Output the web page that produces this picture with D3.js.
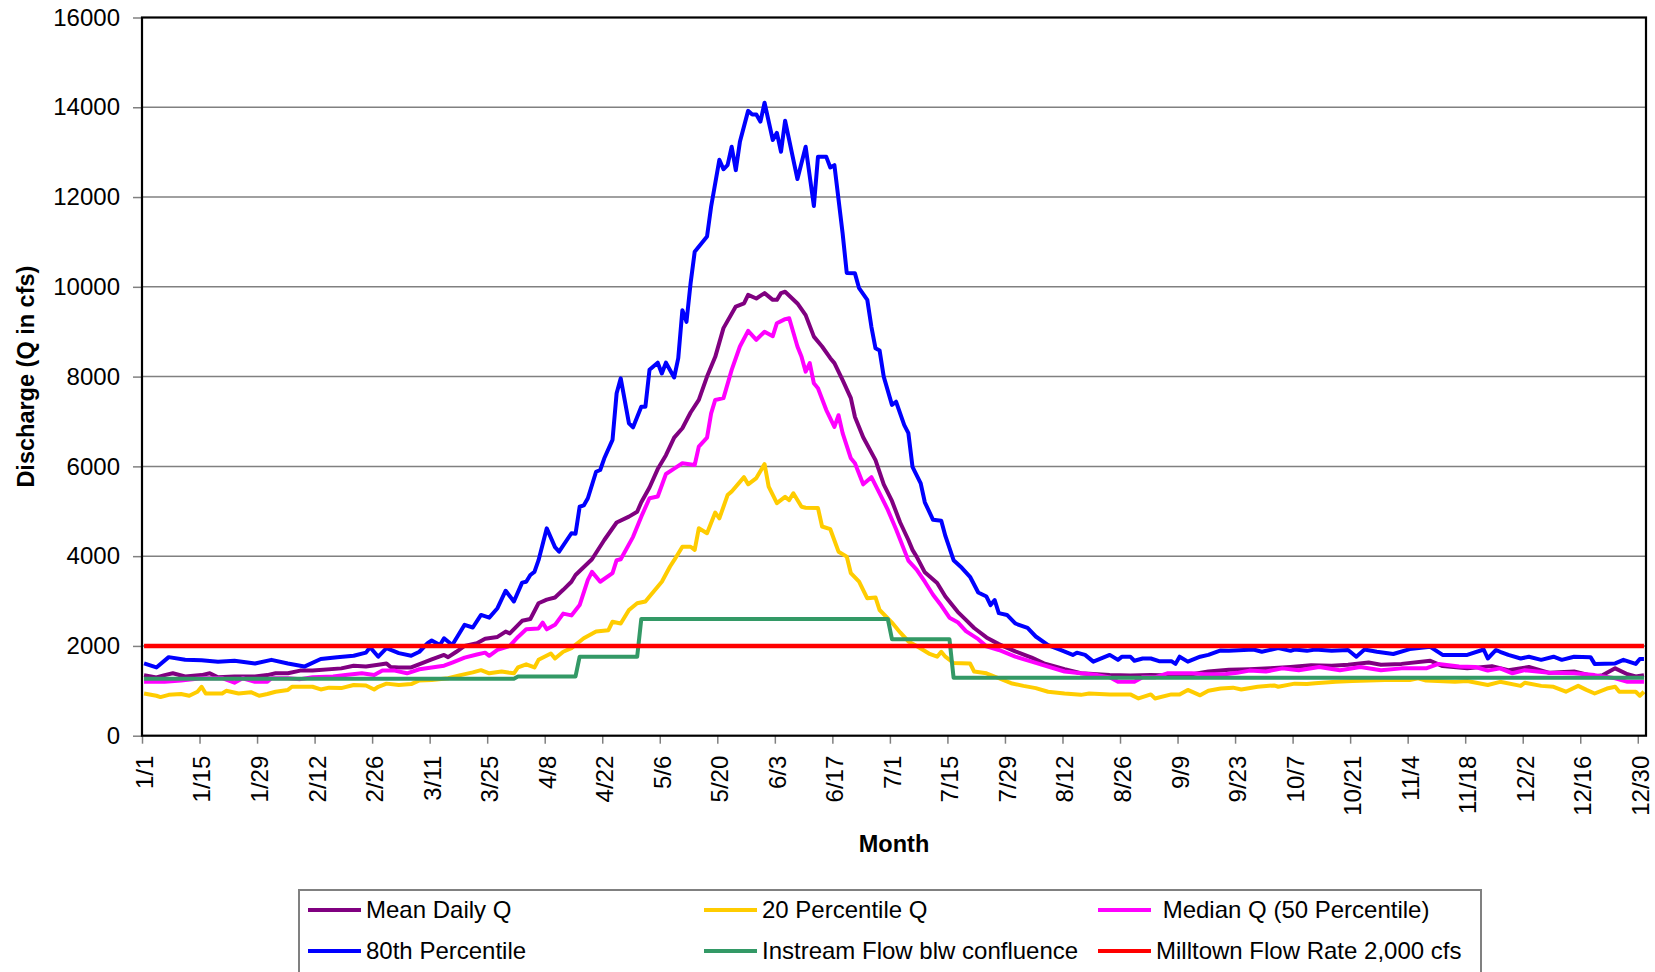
<!DOCTYPE html>
<html>
<head>
<meta charset="utf-8">
<script src="https://cdn.jsdelivr.net/npm/d3@7"></script>
<style>
body { margin: 0; background: #fff; }
svg { display: block; font-family: "Liberation Sans", Arial, sans-serif; }
</style>
</head>
<body>
<svg id="chart"></svg>
<script>
// Day index: 0 = 1/1 ... 365 = 12/31 (leap year, 366 daily categories)
var tickLabels = ['1/1','1/15','1/29','2/12','2/26','3/11','3/25','4/8','4/22','5/6','5/20','6/3','6/17','7/1',
    '7/15','7/29','8/12','8/26','9/9','9/23','10/7','10/21','11/4','11/18','12/2','12/16','12/30'];
var yTicks = [0, 2000, 4000, 6000, 8000, 10000, 12000, 14000, 16000];

// [day, cfs]
var meanQ = [[0,1350],[3,1300],[5,1350],[7,1390],[10,1320],[14,1350],[16,1390],[18,1300],[22,1320],[27,1320],[30,1350],
    [32,1390],[35,1390],[38,1450],[41,1450],[48,1500],[51,1560],[54,1540],[57,1580],[59,1610],[60,1530],[62,1520],[65,1520],
    [68,1630],[70,1700],[73,1800],[74,1750],[76,1870],[78,2000],[81,2060],[83,2160],[86,2200],[88,2320],[89,2280],[92,2560],
    [94,2600],[96,2950],[98,3030],[100,3080],[102,3250],[104,3430],[105,3580],[109,3930],[112,4360],[115,4750],[118,4880],
    [120,4990],[121,5200],[123,5530],[125,5940],[127,6250],[129,6640],[131,6850],[133,7200],[135,7480],[137,8000],[139,8440],
    [141,9080],[144,9560],[146,9630],[147,9820],[149,9740],[151,9860],[153,9710],[154,9710],[155,9860],[156,9890],[159,9630],
    [161,9370],[163,8890],[165,8670],[167,8410],[168,8300],[170,7920],[172,7520],[173,7100],[175,6650],[178,6140],[180,5600],
    [182,5230],[184,4750],[186,4360],[187,4140],[188,3990],[190,3640],[193,3400],[195,3100],[198,2760],[200,2580],[202,2400],
    [205,2190],[208,2040],[212,1880],[216,1740],[219,1610],[221,1560],[224,1480],[228,1390],[232,1370],[235,1350],[240,1340],
    [245,1350],[250,1340],[255,1370],[259,1430],[264,1470],[269,1480],[274,1500],[279,1530],[284,1570],[289,1560],[293,1580],
    [298,1630],[301,1580],[306,1600],[313,1670],[316,1550],[322,1500],[328,1550],[332,1460],[337,1530],[342,1400],[348,1430],
    [353,1320],[355,1350],[358,1500],[361,1370],[363,1320],[365,1350]];

var p20Q = [[0,940],[3,890],[4,860],[6,910],[9,930],[11,890],[13,980],[14,1090],[15,940],[19,940],[20,1000],[23,940],[26,970],
    [28,890],[30,930],[32,980],[35,1020],[36,1090],[41,1090],[43,1030],[45,1070],[48,1060],[51,1130],[54,1120],[56,1030],
    [57,1090],[59,1160],[62,1130],[65,1150],[67,1230],[70,1240],[74,1280],[77,1350],[80,1410],[82,1460],[84,1390],[87,1430],
    [89,1400],[90,1390],[91,1520],[93,1590],[95,1520],[96,1690],[99,1830],[100,1720],[102,1870],[104,1950],[107,2170],
    [110,2320],[113,2350],[114,2540],[116,2500],[118,2800],[120,2950],[122,2990],[123,3100],[126,3430],[128,3770],[129,3910],
    [131,4210],[133,4210],[134,4140],[135,4620],[137,4510],[139,4970],[140,4840],[142,5360],[143,5440],[146,5760],[147,5600],
    [149,5740],[151,6050],[152,5550],[154,5180],[156,5320],[157,5250],[158,5400],[160,5100],[161,5080],[164,5070],[165,4660],
    [167,4600],[169,4100],[171,3990],[172,3620],[174,3430],[176,3060],[178,3080],[179,2800],[182,2520],[184,2300],[186,2100],
    [188,2000],[191,1830],[193,1760],[194,1870],[195,1760],[197,1620],[201,1610],[202,1430],[205,1390],[208,1280],[211,1170],
    [214,1110],[217,1060],[220,980],[224,940],[228,910],[230,940],[235,920],[240,920],[242,830],[245,920],[246,830],[250,920],
    [252,920],[254,1020],[257,900],[259,1000],[262,1050],[265,1070],[267,1030],[271,1090],[275,1120],[276,1090],[280,1160],
    [283,1150],[285,1170],[290,1200],[294,1220],[302,1240],[308,1240],[310,1280],[312,1230],[319,1200],[322,1220],[327,1130],
    [330,1200],[335,1110],[336,1180],[340,1110],[343,1090],[346,980],[349,1110],[351,1020],[353,940],[356,1050],[358,1090],
    [359,980],[363,980],[364,890],[365,980]];

var medianQ = [[0,1200],[5,1200],[9,1230],[14,1280],[19,1280],[22,1180],[24,1280],[27,1200],[30,1200],[31,1280],[35,1280],
    [38,1260],[41,1300],[46,1320],[49,1350],[53,1390],[56,1350],[58,1450],[61,1450],[64,1390],[67,1480],[70,1520],[73,1560],
    [75,1630],[78,1740],[81,1810],[83,1850],[84,1780],[86,1910],[89,2000],[91,2200],[93,2370],[96,2390],[97,2520],[98,2370],
    [100,2470],[102,2720],[104,2680],[106,2910],[108,3470],[109,3650],[111,3430],[114,3620],[115,3910],[116,3930],[119,4430],
    [121,4880],[123,5290],[125,5330],[127,5830],[129,5950],[131,6070],[134,6030],[135,6440],[137,6640],[138,7180],[139,7480],
    [141,7520],[143,8150],[145,8670],[147,9020],[149,8820],[151,9000],[153,8900],[154,9190],[156,9280],[157,9300],[159,8670],
    [160,8440],[161,8110],[162,8300],[163,7850],[164,7740],[166,7260],[168,6880],[169,7140],[170,6740],[172,6180],[173,6070],
    [175,5600],[177,5760],[179,5400],[181,5030],[183,4600],[186,3900],[188,3700],[190,3430],[192,3140],[194,2900],[196,2630],
    [198,2530],[200,2330],[203,2150],[205,1990],[208,1910],[212,1760],[216,1650],[220,1540],[224,1430],[228,1390],[232,1350],
    [235,1300],[237,1200],[241,1200],[243,1300],[246,1300],[249,1390],[255,1390],[258,1370],[263,1370],[266,1400],[269,1450],
    [273,1430],[277,1500],[281,1460],[286,1530],[291,1460],[296,1530],[301,1460],[306,1500],[312,1500],[315,1600],[320,1540],
    [324,1530],[327,1450],[330,1500],[333,1390],[336,1460],[342,1400],[348,1390],[353,1350],[358,1280],[361,1200],[365,1200]];

var p80Q = [[0,1610],[3,1520],[6,1750],[10,1690],[14,1680],[18,1650],[22,1670],[27,1610],[31,1690],[35,1610],[39,1540],
    [43,1710],[47,1750],[51,1780],[54,1850],[55,1970],[57,1760],[59,1950],[62,1840],[65,1780],[67,1870],[69,2060],[70,2120],
    [72,2020],[73,2170],[75,2020],[78,2470],[80,2410],[82,2690],[84,2630],[86,2840],[88,3230],[90,2990],[92,3410],[93,3430],
    [94,3580],[95,3650],[96,3910],[98,4620],[100,4200],[101,4100],[104,4510],[105,4500],[106,5100],[107,5130],[108,5290],
    [110,5880],[111,5920],[112,6180],[114,6590],[115,7630],[116,7960],[118,6960],[119,6870],[121,7330],[122,7330],[123,8150],
    [125,8310],[126,8070],[127,8310],[129,7980],[130,8410],[131,9480],[132,9220],[133,10080],[134,10780],[137,11120],
    [138,11790],[140,12830],[141,12620],[142,12710],[143,13120],[144,12600],[145,13230],[147,13920],[148,13840],[149,13840],
    [150,13680],[151,14100],[153,13270],[154,13430],[155,13010],[156,13700],[159,12400],[161,13120],[163,11800],[164,12900],
    [166,12900],[167,12660],[168,12710],[170,11190],[171,10310],[173,10300],[174,9970],[176,9710],[177,9110],[178,8630],
    [179,8580],[180,8000],[182,7370],[183,7440],[185,6920],[186,6740],[187,5990],[189,5620],[190,5200],[192,4810],[194,4790],
    [195,4450],[197,3910],[199,3740],[201,3540],[203,3190],[205,3100],[206,2910],[207,3020],[208,2730],[210,2690],[212,2500],
    [215,2400],[217,2210],[220,2020],[223,1910],[226,1800],[227,1850],[229,1800],[231,1650],[235,1800],[237,1690],[238,1760],
    [240,1760],[241,1670],[243,1720],[245,1720],[247,1660],[250,1660],[251,1600],[252,1760],[254,1650],[257,1760],[259,1800],
    [262,1900],[264,1890],[270,1920],[272,1870],[276,1950],[279,1890],[280,1920],[283,1890],[285,1920],[289,1890],[293,1910],
    [295,1760],[297,1920],[300,1870],[304,1820],[308,1930],[313,1980],[316,1800],[322,1800],[326,1920],[327,1720],[329,1910],
    [330,1870],[332,1800],[335,1720],[337,1760],[340,1690],[343,1760],[345,1690],[348,1760],[352,1750],[353,1600],[358,1610],
    [360,1690],[363,1600],[364,1710],[365,1710]];

var instreamQ = [[0,1270],[90,1270],[91,1320],[105,1320],[106,1760],[120,1760],[121,2600],[181,2600],[182,2150],[196,2150],
    [197,1290],[365,1290]];

var milltownQ = [[0,2000],[365,2000]];

var seriesNames = ['Mean Daily Q', '20 Percentile Q', ' Median Q (50 Percentile)', '80th Percentile',
    'Instream Flow blw confluence', 'Milltown Flow Rate 2,000 cfs'];
var seriesColors = ['#800080', '#FFCC00', '#FF00FF', '#0000FF', '#339966', '#FF0000'];
var seriesData = [meanQ, p20Q, medianQ, p80Q, instreamQ, milltownQ];

var W = 1655, H = 972;
var plot = { left: 142, right: 1646, top: 17.5, bottom: 735.7 };

var svg = d3.select('#chart').attr('width', W).attr('height', H);
svg.append('rect').attr('width', W).attr('height', H).attr('fill', '#fff');

var x = d3.scaleLinear().domain([0, 366]).range([plot.left, plot.right]);
var y = d3.scaleLinear().domain([0, 16000]).range([plot.bottom, plot.top]);

// horizontal gridlines
svg.append('g')
    .selectAll('line')
    .data(yTicks.filter(d => d > 0 && d < 16000))
    .enter().append('line')
    .attr('x1', plot.left).attr('x2', plot.right)
    .attr('y1', d => y(d)).attr('y2', d => y(d))
    .attr('stroke', '#808080').attr('stroke-width', 1.5);

// y axis
var yAxis = svg.append('g')
    .attr('transform', `translate(${plot.left},0)`)
    .call(d3.axisLeft(y).tickValues(yTicks).tickSize(9).tickPadding(13).tickFormat(d3.format('d')));
yAxis.select('.domain').remove();
yAxis.selectAll('line').attr('stroke', '#808080').attr('stroke-width', 1.5);
yAxis.selectAll('text').style('font-size', '24px').attr('fill', '#000')
    .style('font-family', '"Liberation Sans", Arial, sans-serif');

// x axis: ticks at category edges, labels at category centres
var tickDays = tickLabels.map((t, i) => i * 14);
var xAxis = svg.append('g')
    .attr('transform', `translate(0,${plot.bottom})`)
    .call(d3.axisBottom(x).tickValues(tickDays).tickSize(8).tickFormat((d, i) => tickLabels[i]));
xAxis.select('.domain').remove();
xAxis.selectAll('line').attr('stroke', '#808080').attr('stroke-width', 1.5);
xAxis.selectAll('text')
    .style('font-size', '24px').attr('fill', '#000')
    .style('font-family', '"Liberation Sans", Arial, sans-serif')
    .style('text-anchor', 'end')
    .attr('transform', 'rotate(-90)')
    .attr('x', -20)
    .attr('y', x(0.5) - x(0))
    .attr('dy', '0.35em');

// series lines
var line = d3.line().x(d => x(d[0] + 0.5)).y(d => y(d[1]));
seriesData.forEach(function (data, i) {
    svg.append('path')
        .datum(data)
        .attr('d', line)
        .attr('fill', 'none')
        .attr('stroke', seriesColors[i])
        .attr('stroke-width', i === 5 ? 4.5 : 4)
        .attr('stroke-linejoin', 'round');
});

// plot border
svg.append('rect')
    .attr('x', plot.left).attr('y', plot.top)
    .attr('width', plot.right - plot.left).attr('height', plot.bottom - plot.top)
    .attr('fill', 'none').attr('stroke', '#000').attr('stroke-width', 2.2);

// axis titles
svg.append('text')
    .attr('transform', `translate(34,${(plot.top + plot.bottom) / 2}) rotate(-90)`)
    .attr('text-anchor', 'middle')
    .style('font-size', '23.5px').style('font-weight', 'bold')
    .text('Discharge (Q in cfs)');

svg.append('text')
    .attr('x', (plot.left + plot.right) / 2).attr('y', 852)
    .attr('text-anchor', 'middle')
    .style('font-size', '23.5px').style('font-weight', 'bold')
    .text('Month');

// legend
var legend = svg.append('g');
legend.append('rect')
    .attr('x', 299).attr('y', 890).attr('width', 1182).attr('height', 110)
    .attr('fill', '#fff').attr('stroke', '#808080').attr('stroke-width', 2);

var colX = [308, 704, 1098], rowY = [910, 951];
seriesNames.forEach(function (name, i) {
    var cx = colX[i % 3], cy = rowY[Math.floor(i / 3)];
    legend.append('line')
        .attr('x1', cx).attr('x2', cx + 53)
        .attr('y1', cy).attr('y2', cy)
        .attr('stroke', seriesColors[i]).attr('stroke-width', 4);
    legend.append('text')
        .attr('x', cx + 58).attr('y', cy).attr('dy', '0.35em')
        .style('font-size', '24px').style('white-space', 'pre')
        .text(name);
});
</script>
</body>
</html>
